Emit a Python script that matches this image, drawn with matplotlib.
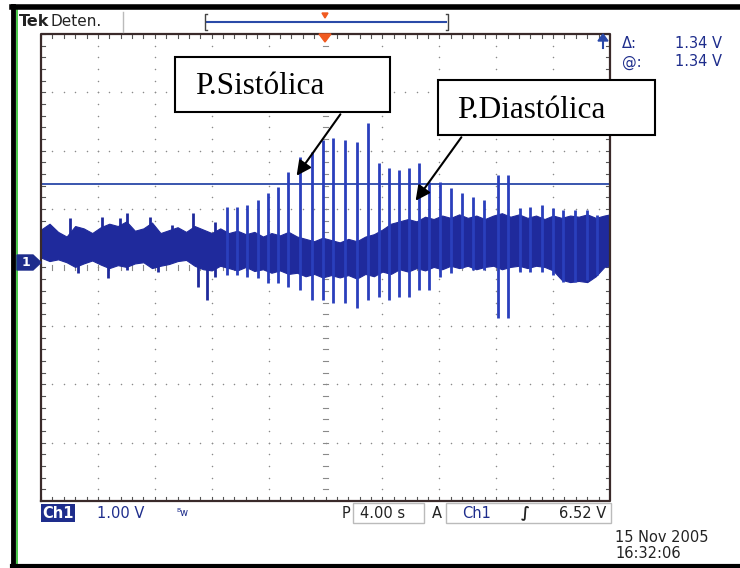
import numpy as np
import matplotlib
matplotlib.use("Agg")
import matplotlib.pyplot as plt
from matplotlib.patches import Rectangle, Polygon

# ---------------------------
# Datos leídos de la pantalla (tiempo en s, tensión en V respecto a tierra)
# ---------------------------
# Envolvente de la banda de ruido
env_t = [-20.0, -19.4, -18.8, -18.2, -17.6, -17.0, -16.4, -15.8, -15.2, -14.6,
         -14.0, -13.4, -12.8, -12.2, -11.6, -11.0, -10.4, -9.8, -9.2, -8.6,
         -8.0, -7.4, -6.8, -6.2, -5.6, -5.0, -4.4, -3.8, -3.2, -2.6,
         -2.0, -1.4, -0.8, -0.2, 0.4, 1.0, 1.6, 2.2, 2.8, 3.4,
         4.0, 4.6, 5.2, 5.8, 6.4, 7.0, 7.6, 8.2, 8.8, 9.4,
         10.0, 10.6, 11.2, 11.8, 12.4, 13.0, 13.6, 14.2, 14.8, 15.4,
         16.0, 16.6, 17.2, 17.8, 18.4, 19.0, 19.6, 20.0]
env_top = [0.56, 0.66, 0.52, 0.44, 0.62, 0.58, 0.50, 0.60, 0.66, 0.62,
           0.70, 0.54, 0.58, 0.68, 0.50, 0.55, 0.60, 0.52, 0.62, 0.56,
           0.50, 0.58, 0.50, 0.54, 0.48, 0.52, 0.44, 0.50, 0.46, 0.52,
           0.44, 0.40, 0.36, 0.42, 0.38, 0.34, 0.40, 0.36, 0.44, 0.48,
           0.56, 0.66, 0.70, 0.74, 0.70, 0.78, 0.74, 0.80, 0.76, 0.82,
           0.76, 0.80, 0.74, 0.80, 0.84, 0.78, 0.82, 0.76, 0.80, 0.74,
           0.80, 0.76, 0.80, 0.78, 0.82, 0.76, 0.80, 0.82]
env_bot = [0.08, 0.02, 0.05, 0.00, -0.08, -0.02, 0.03, -0.04, -0.10, -0.05,
           -0.08, -0.02, 0.00, -0.10, -0.06, -0.03, 0.02, 0.04, -0.06, -0.12,
           -0.14, -0.06, -0.10, -0.14, -0.08, -0.15, -0.12, -0.18, -0.14, -0.20,
           -0.18, -0.24, -0.20, -0.26, -0.22, -0.26, -0.22, -0.28, -0.20, -0.24,
           -0.16, -0.20, -0.12, -0.16, -0.10, -0.14, -0.08, -0.12, -0.06, -0.10,
           -0.06, -0.12, -0.08, -0.06, -0.12, -0.08, -0.06, -0.10, -0.06, -0.08,
           -0.14, -0.30, -0.34, -0.32, -0.34, -0.24, -0.08, -0.06]

# Picos pequeños dentro del ruido
minor_t = [-17.96, -17.40, -15.71, -15.29, -14.45, -13.95, -12.34, -11.77, -10.79,
           -9.31, -8.96, -8.33, -7.77]
minor_hi = [0.76, 0.50, 0.78, 0.50, 0.76, 0.85, 0.78, 0.50, 0.64, 0.85, 0.50, 0.50, 0.69]
minor_lo = [0.01, -0.18, 0.00, -0.27, 0.00, -0.13, 0.00, -0.16, 0.00, 0.00, -0.42, -0.64, -0.25]

# Pulsos de presión
spike_t = [-6.92, -6.22, -5.52, -4.75, -4.04, -3.34, -2.64, -1.79, -0.95, -0.18,
           0.53, 1.37, 2.21, 2.99, 3.76, 4.46, 5.17, 5.87, 6.57, 7.28,
           8.05, 8.82, 9.60, 10.37, 11.14, 12.13, 12.83, 13.67, 14.38, 15.22,
           15.99, 16.70, 17.54, 18.38, 19.09]
spike_top = [0.95, 0.95, 0.98, 1.07, 1.19, 1.29, 1.55, 1.81, 1.89, 2.10,
             2.13, 2.10, 2.06, 2.39, 1.70, 1.62, 1.58, 1.62, 1.70, 1.38,
             1.38, 1.28, 1.19, 1.12, 1.07, 1.50, 1.50, 0.93, 0.95, 0.98,
             0.93, 0.90, 0.90, 0.90, 0.81]
spike_bot = [-0.21, -0.21, -0.25, -0.27, -0.35, -0.35, -0.42, -0.47, -0.64, -0.64,
             -0.69, -0.69, -0.78, -0.64, -0.59, -0.64, -0.59, -0.59, -0.47, -0.47,
             -0.25, -0.18, -0.09, -0.13, -0.13, -0.95, -0.95, -0.16, -0.16, -0.16,
             -0.21, -0.33, -0.33, -0.30, -0.21]

cursor_v = 1.34
gnd = 0.09  # posición de tierra en divisiones sobre el centro

TRACE = "#1f2a9c"
SPIKE = "#2a3fbc"
TEKBLUE = "#1e2d8c"
GRID = "#8a8a8a"

fig = plt.figure(figsize=(7.4, 5.68), dpi=100)
fig.patch.set_facecolor("white")

# Pantalla del osciloscopio: 10 x 8 divisiones, 4 s/div, 1 V/div
ax = fig.add_axes([41 / 740, 67 / 568, 569 / 740, 467 / 568])
ax.set_xlim(-20, 20)
ax.set_ylim(-4, 4)
ax.axis("off")

# retícula punteada
for xv in np.arange(-16, 17, 4):
    if xv == 0:
        continue
    yy = np.arange(-4, 4.01, 0.2)
    ax.scatter(np.full_like(yy, xv), yy, s=1.2, color=GRID, lw=0, zorder=1)
for yv in range(-3, 4):
    if yv == 0:
        continue
    xx = np.arange(-20, 20.01, 0.8)
    ax.scatter(xx, np.full_like(xx, yv), s=1.2, color=GRID, lw=0, zorder=1)

# ejes centrales y bordes con marcas
for yv in np.arange(-4, 4.01, 0.2):
    ax.plot([-0.2, 0.2], [yv, yv], color=GRID, lw=0.8, zorder=1)
    ax.plot([-20, -19.75], [yv, yv], color="#555555", lw=0.8, zorder=1)
    ax.plot([19.75, 20], [yv, yv], color="#555555", lw=0.8, zorder=1)
for xv in np.arange(-20, 20.01, 0.8):
    ax.plot([xv, xv], [-0.05, 0.05], color=GRID, lw=0.8, zorder=1)
    ax.plot([xv, xv], [-4, -3.93], color="#555555", lw=0.8, zorder=1)
    ax.plot([xv, xv], [3.93, 4], color="#555555", lw=0.8, zorder=1)
ax.plot([-20, 20, 20, -20, -20], [-4, -4, 4, 4, -4], color="#3a2a2a", lw=1.6,
        zorder=5, clip_on=False)

# cursor horizontal
ax.axhline(cursor_v + gnd, color="#2a48a8", lw=1.3, zorder=2)

# traza
ax.fill_between(env_t, np.array(env_top) + gnd, np.array(env_bot) + gnd,
                color=TRACE, lw=0.8, zorder=3)
ax.vlines(minor_t, np.array(minor_lo) + gnd, np.array(minor_hi) + gnd,
          color=TRACE, lw=2.0, zorder=3)
ax.vlines(spike_t, np.array(spike_bot) + gnd, np.array(spike_top) + gnd,
          color=SPIKE, lw=2.0, zorder=4)

# ---------------------------
# Capa de decoración en píxeles
# ---------------------------
ov = fig.add_axes([0, 0, 1, 1])
ov.set_xlim(0, 740)
ov.set_ylim(568, 0)
ov.axis("off")
ov.patch.set_alpha(0)

# marco negro y línea verde
ov.plot([13, 13], [6, 566], color="black", lw=3.5)
ov.plot([17, 17], [10, 566], color="#2cc02c", lw=1.2)
ov.plot([12, 740], [7, 7], color="black", lw=4)
ov.plot([12, 740], [566, 566], color="black", lw=3)

# cabecera
ov.text(19, 21, "Tek", fontsize=11.5, fontweight="bold", va="center", color="#222222")
ov.text(50, 21, "Deten.", fontsize=11, va="center", color="#222222")
ov.plot([123, 123], [12, 32], color="#bbbbbb", lw=1)
ov.plot([207, 446], [22, 22], color="#2a4aa8", lw=1.5)
ov.plot([207, 205, 205, 207], [14, 14, 30, 30], color="#444444", lw=1)
ov.plot([446, 448, 448, 446], [14, 14, 30, 30], color="#444444", lw=1)
ov.add_patch(Polygon([[322, 13], [328, 13], [325, 18]], color="#f05a20"))
ov.add_patch(Polygon([[319, 34], [331, 34], [325, 42]], color="#f05a20", zorder=6))
ov.plot([603, 603], [38, 48], color="#2a48a8", lw=1.5)
ov.add_patch(Polygon([[598, 41], [608, 41], [603, 34]], color="#2a48a8"))

# cursores
ov.text(622, 44, "Δ:", fontsize=10.5, va="center", color=TEKBLUE)
ov.text(622, 62, "@:", fontsize=10.5, va="center", color=TEKBLUE)
ov.text(722, 44, "1.34 V", fontsize=10.5, va="center", ha="right", color=TEKBLUE)
ov.text(722, 62, "1.34 V", fontsize=10.5, va="center", ha="right", color=TEKBLUE)

# marcador de tierra
ov.add_patch(Polygon([[17, 255], [33, 255], [41, 262.5], [33, 270], [17, 270]],
                     color=TEKBLUE, zorder=6))
ov.text(26, 262.5, "1", fontsize=9, fontweight="bold", color="white",
        ha="center", va="center", zorder=7)

# anotaciones
ov.add_patch(Rectangle((175, 57), 215, 55, facecolor="white", edgecolor="black",
                       lw=1.5, zorder=8))
ov.text(195, 86, "P.Sistólica", fontsize=22.5, family="Liberation Serif",
        va="center", zorder=9)
ov.add_patch(Rectangle((438, 80), 217, 55, facecolor="white", edgecolor="black",
                       lw=1.5, zorder=8))
ov.text(457, 110, "P.Diastólica", fontsize=22.5, family="Liberation Serif",
        va="center", zorder=9)
ov.annotate("", xy=(295, 178), xytext=(342, 112), zorder=9,
            arrowprops=dict(arrowstyle="-|>", color="black", lw=1.5, mutation_scale=22))
ov.annotate("", xy=(414, 203), xytext=(463, 135), zorder=9,
            arrowprops=dict(arrowstyle="-|>", color="black", lw=1.5, mutation_scale=22))

# barra inferior
ov.text(42, 513, "Ch1", fontsize=10.5, fontweight="bold", va="center", color="white",
        bbox=dict(boxstyle="square,pad=0.1", fc=TEKBLUE, ec="none"))
ov.text(97, 513, "1.00 V", fontsize=10.5, va="center", color=TEKBLUE)
ov.text(176, 513, "ᴮw", fontsize=7, va="center", color=TEKBLUE)
ov.text(342, 513, "P", fontsize=10.5, va="center", color="#222222")
ov.add_patch(Rectangle((353, 503), 71, 20, fill=False, ec="#bbbbbb", lw=1))
ov.text(360, 513, "4.00 s", fontsize=10.5, va="center", color="#222222")
ov.text(432, 513, "A", fontsize=10.5, va="center", color="#222222")
ov.add_patch(Rectangle((446, 503), 165, 20, fill=False, ec="#bbbbbb", lw=1))
ov.text(462, 513, "Ch1", fontsize=10.5, va="center", color=TEKBLUE)
ov.text(521, 513, "∫", fontsize=10.5, va="center", color="#222222", fontweight="bold")
ov.text(606, 513, "6.52 V", fontsize=10.5, va="center", ha="right", color="#222222")
ov.text(615, 537, "15 Nov 2005", fontsize=10.5, va="center", color="#222222")
ov.text(615, 554, "16:32:06", fontsize=10.5, va="center", color="#222222")

fig.savefig("out.png", dpi=100)
